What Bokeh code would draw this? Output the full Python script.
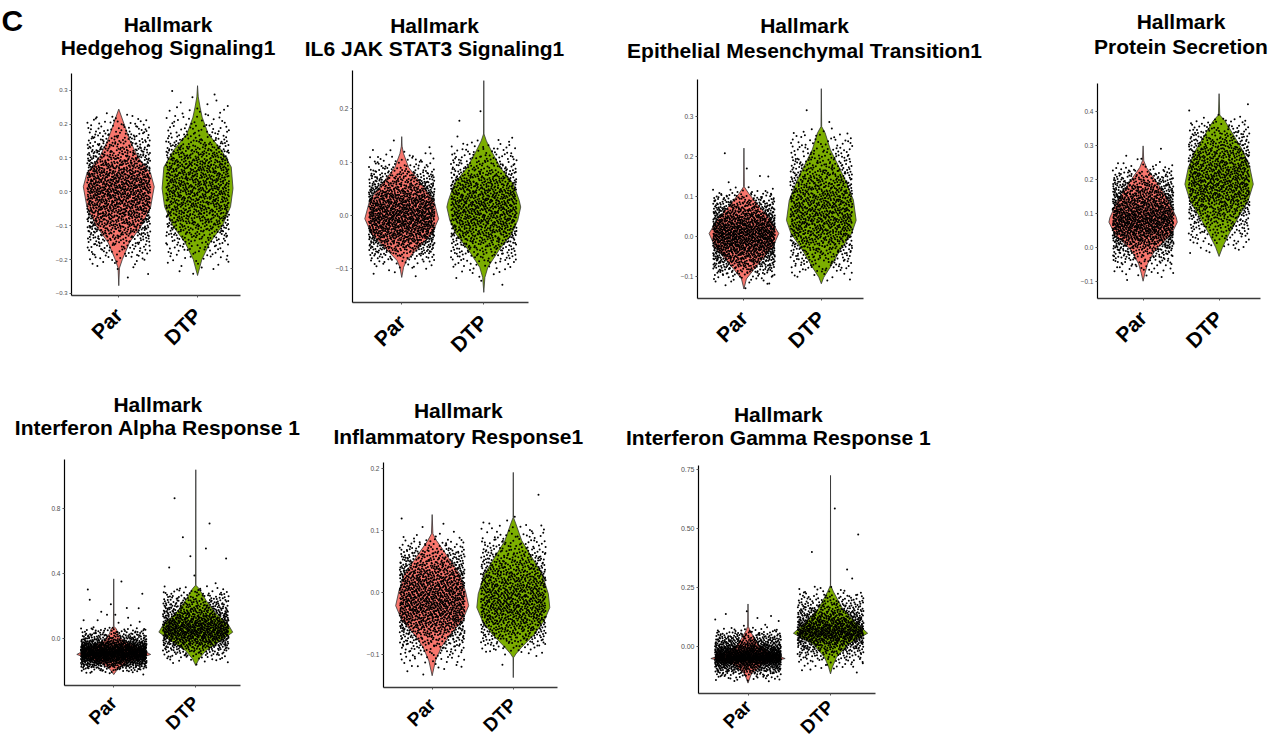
import numpy as np
from math import pi
from bokeh.plotting import figure
from bokeh.models import Range1d, FixedTicker
from bokeh.core.properties import value
from bokeh.layouts import column, row
from bokeh.embed import file_html
from bokeh.resources import INLINE

# ---------------- data ----------------
categories = ["Par", "DTP"]
group_colors = ["#F8766D", "#7CAE00"]
title_top = "Hallmark"
panel_letter = "C"
par_cells = 1500
dtp_cells = 1100

hedgehog_title = "Hedgehog Signaling1"
hedgehog_ticks = [-0.3, -0.2, -0.1, 0.0, 0.1, 0.2, 0.3]
hedgehog_tick_labels = ["\u22120.3", "\u22120.2", "\u22120.1", "0.0", "0.1", "0.2", "0.3"]
hedgehog_ylim = [-0.306, 0.349]
hedgehog_par_y = [-0.277, -0.225, -0.2, -0.15, -0.1, -0.044, 0.015, 0.054, 0.103, 0.15, 0.2, 0.244]
hedgehog_par_w = [0.0, 0.02, 0.1, 0.3, 0.64, 0.9, 1.0, 0.9, 0.54, 0.32, 0.15, 0.0]
hedgehog_dtp_y = [-0.247, -0.2, -0.15, -0.1, -0.044, 0.01, 0.073, 0.122, 0.171, 0.22, 0.25, 0.28, 0.313]
hedgehog_dtp_w = [0.0, 0.12, 0.35, 0.7, 0.93, 1.0, 0.95, 0.68, 0.3, 0.13, 0.07, 0.02, 0.0]

il6_title = "IL6 JAK STAT3 Signaling1"
il6_ticks = [-0.1, 0.0, 0.1, 0.2]
il6_tick_labels = ["\u22120.1", "0.0", "0.1", "0.2"]
il6_ylim = [-0.163, 0.272]
il6_par_y = [-0.116, -0.097, -0.084, -0.066, -0.034, -0.006, 0.028, 0.06, 0.09, 0.116, 0.13, 0.148]
il6_par_w = [0.0, 0.05, 0.13, 0.38, 0.82, 1.0, 0.87, 0.53, 0.19, 0.05, 0.01, 0.0]
il6_dtp_y = [-0.144, -0.116, -0.097, -0.066, -0.034, -0.009, 0.016, 0.028, 0.06, 0.09, 0.122, 0.14, 0.153, 0.253]
il6_dtp_w = [0.0, 0.03, 0.11, 0.4, 0.76, 0.92, 1.0, 0.96, 0.8, 0.45, 0.2, 0.07, 0.006, 0.0]

emt_title = "Epithelial Mesenchymal Transition1"
emt_ticks = [-0.1, 0.0, 0.1, 0.2, 0.3]
emt_tick_labels = ["\u22120.1", "0.0", "0.1", "0.2", "0.3"]
emt_ylim = [-0.155, 0.394]
emt_par_y = [-0.131, -0.106, -0.085, -0.06, -0.026, 0.008, 0.041, 0.075, 0.108, 0.125, 0.222]
emt_par_w = [0.0, 0.07, 0.26, 0.5, 0.83, 1.0, 0.78, 0.45, 0.14, 0.01, 0.0]
emt_dtp_y = [-0.118, -0.102, -0.076, -0.034, 0.008, 0.041, 0.092, 0.134, 0.176, 0.218, 0.26, 0.276, 0.371]
emt_dtp_w = [0.0, 0.07, 0.26, 0.54, 0.87, 1.0, 0.92, 0.73, 0.5, 0.26, 0.11, 0.01, 0.0]

protein_title = "Protein Secretion"
protein_ticks = [-0.1, 0.0, 0.1, 0.2, 0.3, 0.4]
protein_tick_labels = ["\u22120.1", "0.0", "0.1", "0.2", "0.3", "0.4"]
protein_ylim = [-0.151, 0.483]
protein_par_y = [-0.1, -0.078, -0.049, -0.01, 0.039, 0.074, 0.088, 0.137, 0.186, 0.235, 0.255, 0.299]
protein_par_w = [0.0, 0.05, 0.13, 0.34, 0.83, 1.0, 0.97, 0.75, 0.44, 0.1, 0.02, 0.0]
protein_dtp_y = [-0.027, 0.0, 0.039, 0.088, 0.137, 0.186, 0.235, 0.284, 0.333, 0.373, 0.39, 0.453]
protein_dtp_w = [0.0, 0.1, 0.29, 0.56, 0.85, 1.0, 0.9, 0.7, 0.41, 0.17, 0.02, 0.0]

ifna_title = "Interferon Alpha Response 1"
ifna_ticks = [0.0, 0.4, 0.8]
ifna_tick_labels = ["0.0", "0.4", "0.8"]
ifna_ylim = [-0.287, 1.103]
ifna_par_y = [-0.22, -0.185, -0.144, -0.096, -0.051, -0.01, 0.03, 0.062, 0.075, 0.369]
ifna_par_w = [0.0, 0.11, 0.39, 1.0, 0.64, 0.25, 0.12, 0.07, 0.008, 0.0]
ifna_dtp_y = [-0.164, -0.123, -0.072, -0.01, 0.041, 0.092, 0.154, 0.236, 0.308, 0.33, 1.04]
ifna_dtp_w = [0.0, 0.09, 0.28, 0.69, 1.0, 0.87, 0.55, 0.28, 0.09, 0.005, 0.0]

inflam_title = "Inflammatory Response1"
inflam_ticks = [-0.1, 0.0, 0.1, 0.2]
inflam_tick_labels = ["\u22120.1", "0.0", "0.1", "0.2"]
inflam_ylim = [-0.153, 0.210]
inflam_par_y = [-0.134, -0.11, -0.088, -0.067, -0.045, -0.021, 0.003, 0.03, 0.057, 0.084, 0.095, 0.126]
inflam_par_w = [0.0, 0.09, 0.25, 0.5, 0.83, 1.0, 0.91, 0.76, 0.44, 0.12, 0.02, 0.0]
inflam_dtp_y = [-0.137, -0.105, -0.099, -0.088, -0.067, -0.045, -0.024, -0.002, 0.03, 0.057, 0.084, 0.111, 0.121, 0.194]
inflam_dtp_w = [0.0, 0.006, 0.07, 0.23, 0.58, 0.85, 1.0, 0.96, 0.79, 0.51, 0.23, 0.07, 0.006, 0.0]

ifng_title = "Interferon Gamma Response 1"
ifng_ticks = [0.0, 0.25, 0.5, 0.75]
ifng_tick_labels = ["0.00", "0.25", "0.50", "0.75"]
ifng_ylim = [-0.197, 0.768]
ifng_par_y = [-0.153, -0.114, -0.072, -0.049, -0.031, 0.011, 0.067, 0.0875, 0.182]
ifng_par_w = [0.0, 0.09, 0.4, 1.0, 0.67, 0.27, 0.06, 0.008, 0.0]
ifng_dtp_y = [-0.114, -0.086, -0.044, 0.011, 0.058, 0.108, 0.164, 0.233, 0.261, 0.726]
ifng_dtp_w = [0.0, 0.05, 0.16, 0.47, 1.0, 0.65, 0.32, 0.08, 0.003, 0.0]

panels = [
    (hedgehog_title, hedgehog_ticks, hedgehog_tick_labels, hedgehog_ylim,
     (hedgehog_par_y, hedgehog_par_w), (hedgehog_dtp_y, hedgehog_dtp_w)),
    (il6_title, il6_ticks, il6_tick_labels, il6_ylim,
     (il6_par_y, il6_par_w), (il6_dtp_y, il6_dtp_w)),
    (emt_title, emt_ticks, emt_tick_labels, emt_ylim,
     (emt_par_y, emt_par_w), (emt_dtp_y, emt_dtp_w)),
    (protein_title, protein_ticks, protein_tick_labels, protein_ylim,
     (protein_par_y, protein_par_w), (protein_dtp_y, protein_dtp_w)),
    (ifna_title, ifna_ticks, ifna_tick_labels, ifna_ylim,
     (ifna_par_y, ifna_par_w), (ifna_dtp_y, ifna_dtp_w)),
    (inflam_title, inflam_ticks, inflam_tick_labels, inflam_ylim,
     (inflam_par_y, inflam_par_w), (inflam_dtp_y, inflam_dtp_w)),
    (ifng_title, ifng_ticks, ifng_tick_labels, ifng_ylim,
     (ifng_par_y, ifng_par_w), (ifng_dtp_y, ifng_dtp_w)),
]

# ---------------- layout (pixels) ----------------
PAGE_W = 1272
STRIP1_H, ROW1_H = 64, 311
STRIP2_H, ROW2_H = 76, 297
XLIM = (0.40, 2.545)
TITLE_FS = 21
LETTER_FS = 30
BASELINE_FIX = 0.34   # text glyph anchor correction (fraction of font size)

layout = [
    dict(w=290, h=ROW1_H, bl=71, br=50, bt=9, bb=80, fs="6px", xf="21px", xs=14),
    dict(w=300, h=ROW1_H, bl=62, br=62, bt=6, bb=73, fs="6.5px", xf="21px", xs=14),
    dict(w=450, h=ROW1_H, bl=107, br=177, bt=15, bb=77, fs="6.5px", xf="21px", xs=14),
    dict(w=232, h=ROW1_H, bl=57, br=12, bt=19, bb=77, fs="6.5px", xf="21px", xs=14),
    dict(w=315, h=ROW2_H, bl=64, br=75, bt=8, bb=63, fs="6.5px", xf="19px", xs=12),
    dict(w=295, h=ROW2_H, bl=68, br=53, bt=11, bb=61, fs="6.5px", xf="19px", xs=12),
    dict(w=350, h=ROW2_H, bl=88, br=85, bt=14, bb=51, fs="7px", xf="19px", xs=8),
]
title_pos = [
    dict(cx=167.5, b1=30.7, b2=54.0),
    dict(cx=434.0, b1=31.7, b2=55.0),
    dict(cx=804.0, b1=31.7, b2=56.7),
    dict(cx=1180.5, b1=28.3, b2=52.7),
    dict(cx=157.3, b1=35.7, b2=59.3),
    dict(cx=457.8, b1=42.3, b2=67.7),
    dict(cx=777.8, b1=45.7, b2=69.3),
]
letter_pos = dict(x=1, b=30)

FONT = "Liberation Sans"
HALF_WIDTH = 0.45
JITTER = 0.4


def halton(n, base, start):
    out = np.empty(n)
    for i in range(n):
        f, r, k = 1.0, 0.0, i + start
        while k > 0:
            f /= base
            r += f * (k % base)
            k //= base
        out[i] = r
    return out


def cell_cloud(prof_y, prof_w, n, pos, start):
    py = np.asarray(prof_y, float)
    pw = np.asarray(prof_w, float)
    grid = np.linspace(py[0], py[-1], 800)
    dens = np.interp(grid, py, pw)
    cdf = np.cumsum(dens)
    cdf = (cdf - cdf[0]) / (cdf[-1] - cdf[0])
    u = halton(n, 2, start)
    v = halton(n, 3, start)
    ys = np.interp(u, cdf, grid)
    xs = pos + (v - 0.5) * 2 * JITTER
    return xs, ys


def make_panel(k, spec, lay):
    title2, ticks, tick_labels, ylim, par, dtp = spec
    p = figure(width=lay["w"], height=lay["h"],
               x_range=Range1d(*XLIM), y_range=Range1d(ylim[0], ylim[1]),
               min_border_left=lay["bl"], min_border_right=lay["br"],
               min_border_top=lay["bt"], min_border_bottom=lay["bb"],
               output_backend="svg", toolbar_location=None, title=None)
    p.outline_line_color = None
    p.xgrid.visible = False
    p.ygrid.visible = False
    p.background_fill_color = "white"
    p.border_fill_color = "white"

    for gi, (prof, col) in enumerate(zip([par, dtp], group_colors)):
        pos = gi + 1
        py = np.asarray(prof[0], float)
        pw = np.asarray(prof[1], float) * HALF_WIDTH
        xs = np.concatenate([pos + pw, (pos - pw)[::-1]])
        ys = np.concatenate([py, py[::-1]])
        p.patch(xs, ys, fill_color=col, line_color="#333333", line_width=0.8)
    for gi, (prof, n) in enumerate(zip([par, dtp], [par_cells, dtp_cells])):
        cx, cy = cell_cloud(prof[0], prof[1], n, gi + 1, 1 + 7919 * k + 3001 * gi)
        p.scatter(cx, cy, size=2.0, fill_color="black", line_color=None)

    xa = p.xaxis[0]
    xa.ticker = FixedTicker(ticks=[1, 2])
    xa.major_label_overrides = {1: categories[0], 2: categories[1]}
    xa.major_label_orientation = pi / 4
    xa.major_label_text_font = FONT
    xa.major_label_text_font_style = "bold"
    xa.major_label_text_font_size = lay["xf"]
    xa.major_label_text_color = "black"
    xa.major_label_standoff = lay["xs"]
    xa.major_tick_out = 2
    xa.major_tick_in = 0
    xa.minor_tick_line_color = None
    xa.axis_line_color = "#3a3a3a"
    xa.axis_line_width = 1.3
    xa.major_tick_line_color = "#555555"

    ya = p.yaxis[0]
    ya.ticker = FixedTicker(ticks=ticks)
    ya.major_label_overrides = {t: s for t, s in zip(ticks, tick_labels)}
    ya.major_label_text_font = FONT
    ya.major_label_text_font_size = lay["fs"]
    ya.major_label_text_color = "#4D4D4D"
    ya.major_label_standoff = 2
    ya.major_tick_out = 2
    ya.major_tick_in = 0
    ya.minor_tick_line_color = None
    ya.axis_line_color = "black"
    ya.axis_line_width = 1.2
    ya.major_tick_line_color = "#555555"
    return p


def make_strip(height, idx, letter=False):
    s = figure(width=PAGE_W, height=height, x_range=Range1d(0, PAGE_W),
               y_range=Range1d(height, 0), x_axis_type=None, y_axis_type=None,
               min_border=0, output_backend="svg", toolbar_location=None, title=None)
    s.outline_line_color = None
    s.xgrid.visible = False
    s.ygrid.visible = False
    s.border_fill_color = "white"
    xs, ys, texts = [], [], []
    for i in idx:
        tp = title_pos[i]
        xs += [tp["cx"], tp["cx"]]
        ys += [tp["b1"] - BASELINE_FIX * TITLE_FS, tp["b2"] - BASELINE_FIX * TITLE_FS]
        texts += [title_top, panels[i][0]]
    s.text(x=xs, y=ys, text=texts, text_font=value(FONT), text_font_style="bold",
           text_font_size=f"{TITLE_FS}px", text_align="center", text_baseline="alphabetic",
           text_color="black")
    if letter:
        s.text(x=[letter_pos["x"]], y=[letter_pos["b"] - BASELINE_FIX * LETTER_FS],
               text=[panel_letter], text_font=value(FONT),
               text_font_style="bold", text_font_size=f"{LETTER_FS}px", text_align="left",
               text_baseline="alphabetic", text_color="black")
    return s


figs = [make_panel(k, spec, lay) for k, (spec, lay) in enumerate(zip(panels, layout))]
strip1 = make_strip(STRIP1_H, [0, 1, 2, 3], letter=True)
strip2 = make_strip(STRIP2_H, [4, 5, 6])
row1 = row(*[column(f) for f in figs[:4]])
row2 = row(*[column(f) for f in figs[4:]])
page = column(strip1, row1, strip2, row2)
open("out.html", "w").write(file_html(page, INLINE))
